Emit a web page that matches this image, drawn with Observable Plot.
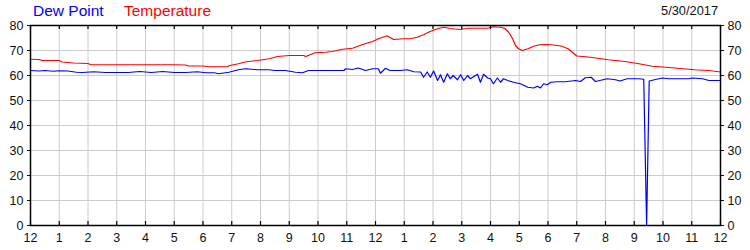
<!DOCTYPE html>
<html>
<head>
<meta charset="utf-8">
<script src="https://cdn.jsdelivr.net/npm/d3@7"></script>
<script src="https://cdn.jsdelivr.net/npm/@observablehq/plot@0.6"></script>
<style>
  html, body { margin: 0; padding: 0; background: #fff; }
  #wrap { width: 750px; font-family: "Liberation Sans", Arial, sans-serif; }
  #head { position: relative; height: 20px; }
  #head span { position: absolute; top: 3px; white-space: nowrap; line-height: 1; }
  #dp { left: 33px; color: #0000ff; font-size: 15.5px; }
  #tp { left: 124px; color: #ff0000; font-size: 15.5px; }
  #dt { right: 32px; color: #111; font-size: 12.8px; top: 5px !important; }
</style>
</head>
<body>
<div id="wrap">
  <div id="head"><span id="dp">Dew Point</span><span id="tp">Temperature</span><span id="dt">5/30/2017</span></div>
  <div id="chart"></div>
</div>
<script>
const hourTicks = d3.range(0, 25);
const hourLabels = ["12","1","2","3","4","5","6","7","8","9","10","11","12","1","2","3","4","5","6","7","8","9","10","11","12"];
const valueTicks = d3.range(0, 90, 10);

// [hour since midnight, °F]
const temperature = [
  [0,66.5],[0.3,66.4],[0.4,66.0],[1.0,66.0],[1.1,65.4],[1.3,65.2],[1.5,65.0],[2.0,64.8],[2.1,64.3],
  [3,64.3],[4,64.3],[5,64.3],[5.4,64.2],[5.5,63.8],[6.0,63.8],[6.2,63.5],[6.85,63.5],[6.9,63.9],
  [7.23,64.7],[7.5,65.5],[7.9,66.0],[8.3,66.7],[8.6,67.6],[9.0,68.0],[9.5,68.0],[9.57,67.6],
  [9.9,69.1],[10.26,69.3],[10.5,69.6],[10.85,70.5],[11.2,70.9],[11.55,72.4],[11.9,73.6],[12.1,74.7],
  [12.4,75.9],[12.63,74.4],[12.97,74.7],[13.2,74.7],[13.45,75.3],[13.67,76.3],[13.9,77.6],[14.15,78.7],
  [14.37,79.3],[14.6,78.8],[14.96,78.4],[15.2,78.9],[15.55,78.9],[15.9,78.9],[16.1,79.5],[16.35,79.3],
  [16.5,78.8],[16.63,77.3],[16.77,74.7],[16.87,72.0],[16.98,70.7],[17.1,70.0],[17.3,70.7],[17.5,71.7],
  [17.7,72.3],[17.97,72.4],[18.2,72.2],[18.45,71.8],[18.7,70.7],[18.85,69.3],[19.0,67.8],[19.4,67.4],
  [19.8,66.8],[20.1,66.3],[20.6,65.7],[21.07,64.9],[21.63,63.7],[22.1,63.3],[22.7,62.7],[23.1,62.3],
  [23.6,62.0],[24,61.4]
];

const dewPoint = [
  [0,62.0],[0.3,61.8],[0.5,62.0],[0.8,61.7],[1.0,61.9],[1.3,61.8],[1.6,61.3],[1.8,61.2],[2.2,61.5],
  [2.6,61.2],[3.0,61.2],[3.4,61.2],[3.8,61.6],[4.2,61.2],[4.6,61.6],[5.0,61.2],[5.4,61.2],[5.8,61.5],
  [6.1,61.1],[6.4,61.1],[6.54,60.7],[6.9,61.3],[7.23,62.3],[7.48,62.7],[7.9,62.3],[8.3,62.3],[8.5,62.0],
  [8.87,62.0],[9.22,61.3],[9.46,61.1],[9.67,62.0],[10.1,62.0],[10.5,62.0],[10.9,62.0],[10.96,62.7],
  [11.2,62.4],[11.4,63.0],[11.65,62.0],[11.9,62.7],[12.1,62.7],[12.17,60.9],[12.35,62.9],[12.5,62.0],
  [12.87,62.0],[13.1,62.3],[13.33,61.5],[13.57,61.4],[13.67,59.3],[13.8,61.4],[13.91,59.3],[14.02,61.8],
  [14.16,58.0],[14.26,60.3],[14.37,57.3],[14.5,60.7],[14.6,58.7],[14.7,60.0],[14.85,58.3],[14.96,60.3],
  [15.07,58.0],[15.2,60.0],[15.3,58.7],[15.55,60.5],[15.65,57.3],[15.76,60.5],[15.9,59.0],[16.0,58.7],
  [16.1,56.7],[16.24,59.0],[16.35,57.3],[16.45,58.7],[16.6,58.0],[16.8,57.3],[17.04,56.7],[17.3,55.3],
  [17.5,55.0],[17.63,55.7],[17.74,55.0],[17.85,56.7],[17.97,56.3],[18.1,57.3],[18.3,57.5],[18.6,57.5],
  [18.96,58.0],[19.13,57.6],[19.3,59.1],[19.5,59.3],[19.65,57.6],[19.8,58.0],[20.06,58.7],[20.35,58.3],
  [20.5,57.8],[20.75,58.7],[21.15,58.7],[21.33,58.5],[21.43,0],[21.52,57.8],[21.74,58.4],[21.98,59.0],
  [22.2,58.7],[22.6,58.7],[22.9,58.7],[23.02,59.0],[23.37,58.7],[23.6,58.0],[24,58.0]
];

const chart = Plot.plot({
  width: 750,
  height: 230,
  marginTop: 5,
  marginBottom: 25,
  marginLeft: 30,
  marginRight: 30,
  x: { domain: [0, 24], axis: null },
  y: { domain: [0, 80], axis: null },
  style: { fontFamily: "'Liberation Sans', Arial, sans-serif", fontSize: "12.5px", color: "#111", background: "#fff" },
  marks: [
    Plot.gridX(hourTicks, { stroke: "#cccccc", strokeOpacity: 1 }),
    Plot.gridY(valueTicks, { stroke: "#cccccc", strokeOpacity: 1 }),
    Plot.line(temperature, { x: d => d[0], y: d => d[1], stroke: "#ff0000", strokeWidth: 1.2 }),
    Plot.line(dewPoint, { x: d => d[0], y: d => d[1], stroke: "#0000ff", strokeWidth: 1.2 }),
    Plot.frame({ stroke: "#000", strokeWidth: 1.5 }),
    Plot.tickX(hourTicks, { x: d => d, insetTop: 196, stroke: "#000", strokeWidth: 1.2 }),
    Plot.tickX(hourTicks, { x: d => d, insetBottom: 196, stroke: "#000", strokeWidth: 1.2 }),
    Plot.axisY(valueTicks, { anchor: "left", tickSize: 3, tickPadding: 4, label: null }),
    Plot.axisY(valueTicks, { anchor: "right", tickSize: 3, tickPadding: 4, label: null }),
    Plot.axisX(hourTicks, { anchor: "bottom", tickSize: 0, tickPadding: 8, label: null,
      tickFormat: (d, i) => hourLabels[i] })
  ]
});
document.getElementById("chart").appendChild(chart);
</script>
</body>
</html>
